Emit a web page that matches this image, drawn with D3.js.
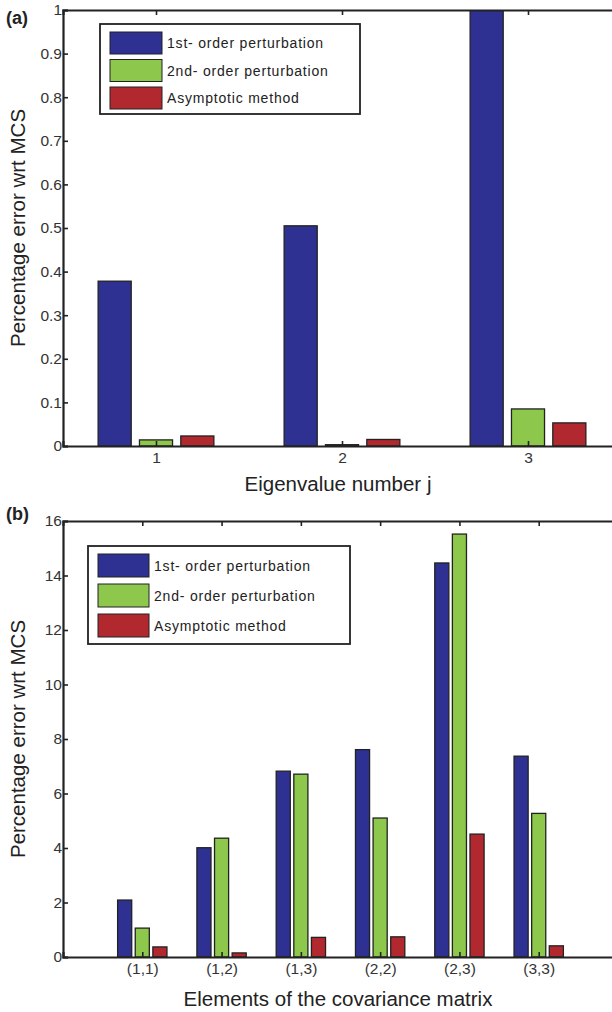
<!DOCTYPE html>
<meta charset="UTF-8">
<html lang="en">
<head><link rel="icon" href="data:,"></head>
<style>
body {
  margin: 0;
  background: #fff;
}
svg text {
  font-family: "Liberation Sans", Arial, sans-serif;
}
.tick-label {
  font-size: 15.5px;
  fill: #333;
}
.axis-title {
  font-size: 20.5px;
  fill: #222;
}
.legend-text {
  font-size: 14px;
  fill: #222;
  letter-spacing: 0.8px;
}
.panel-tag {
  font-size: 18px;
  font-weight: bold;
  fill: #222;
}
</style>
<script src="https://unpkg.com/d3@7.0.1/dist/d3.min.js"></script>
<body>
<svg id="view"></svg>
</body>
<script>
const seriesNames = ["1st- order perturbation", "2nd- order perturbation", "Asymptotic method"];
const seriesColors = ["#2e3192", "#8dc74c", "#b2282f"];

// panel (a): eigenvalues
const eigCategories = ["1", "2", "3"];
const eigFirst = [0.378, 0.505, 1.0];
const eigSecond = [0.014, 0.003, 0.085];
const eigAsym = [0.023, 0.015, 0.053];
const eigTicks = [0, 0.1, 0.2, 0.3, 0.4, 0.5, 0.6, 0.7, 0.8, 0.9, 1];

// panel (b): covariance matrix elements
const covCategories = ["(1,1)", "(1,2)", "(1,3)", "(2,2)", "(2,3)", "(3,3)"];
const covFirst = [2.09, 4.01, 6.82, 7.61, 14.46, 7.37];
const covSecond = [1.06, 4.36, 6.71, 5.1, 15.52, 5.27];
const covAsym = [0.37, 0.15, 0.72, 0.74, 4.51, 0.41];
const covTicks = [0, 2, 4, 6, 8, 10, 12, 14, 16];

const W = 612, H = 1012;
const svg = d3.select("#view").attr("width", W).attr("height", H);

// matlab grouped bar geometry
const groupW = 2 / 9;
const barW = 0.8 * groupW;

function drawPanel(opt){
    const g = svg.append("g");
    const x = d3.scaleLinear().domain(opt.xDomain).range([63, opt.right]);
    const y = d3.scaleLinear().domain(opt.yDomain).range([opt.bottom, opt.top]);
    const series = [opt.first, opt.second, opt.asym];

    const clipId = "clip-" + opt.id;
    g.append("clipPath").attr("id", clipId)
        .append("rect")
        .attr("x", x.range()[0]).attr("y", y.range()[1])
        .attr("width", x.range()[1] - x.range()[0])
        .attr("height", y.range()[0] - y.range()[1]);

    const bars = g.append("g").attr("clip-path", `url(#${clipId})`);
    series.forEach((vals, si) => {
        bars.selectAll(null)
            .data(vals)
            .enter()
            .append("rect")
            .attr("x", (d, i) => x(i + 1 + (si - 1) * groupW - barW / 2))
            .attr("width", x(barW) - x(0))
            .attr("y", d => y(d))
            .attr("height", d => y(0) - y(d))
            .attr("fill", seriesColors[si])
            .attr("stroke", "#222")
            .attr("stroke-width", 1.3);
    });

    // box axes with inward ticks, like matlab
    const tickLen = 5;
    const catPos = opt.categories.map((c, i) => i + 1);
    const axisLeft = d3.axisLeft(y).tickValues(opt.yTicks).tickSize(-tickLen).tickPadding(1)
        .tickFormat(d => opt.fmt(d));
    const axisRight = d3.axisRight(y).tickValues(opt.yTicks).tickSize(-tickLen).tickFormat("");
    const axisBottom = d3.axisBottom(x).tickValues(catPos).tickSize(-tickLen).tickPadding(6)
        .tickFormat((d, i) => opt.categories[i]);
    const axisTop = d3.axisTop(x).tickValues(catPos).tickSize(-tickLen).tickFormat("");

    const axes = [
        [axisLeft, `translate(${x.range()[0]},0)`],
        [axisRight, `translate(${x.range()[1]},0)`],
        [axisBottom, `translate(0,${y.range()[0]})`],
        [axisTop, `translate(0,${y.range()[1]})`]
    ];
    axes.forEach(([ax, tr]) => {
        const a = g.append("g").attr("transform", tr).call(ax);
        a.select(".domain").attr("stroke", "#222").attr("stroke-width", 2.2);
        a.selectAll(".tick line").attr("stroke", "#222").attr("stroke-width", 1.6);
        a.selectAll(".tick text").attr("class", "tick-label").attr("font-size", null).attr("font-family", null);
    });

    // axis titles
    g.append("text")
        .attr("class", "axis-title")
        .attr("x", 338)
        .attr("y", opt.bottom + opt.xTitleGap)
        .attr("text-anchor", "middle")
        .text(opt.xTitle);
    g.append("text")
        .attr("class", "axis-title")
        .attr("transform", `translate(25,${(opt.top + opt.bottom) / 2}) rotate(-90)`)
        .attr("text-anchor", "middle")
        .text("Percentage error wrt MCS");

    g.append("text")
        .attr("class", "panel-tag")
        .attr("x", 6)
        .attr("y", opt.tagY)
        .text(opt.tag);

    // legend
    const lg = g.append("g");
    const L = opt.legend;
    lg.append("rect")
        .attr("x", L.x).attr("y", L.y)
        .attr("width", L.w).attr("height", L.h)
        .attr("fill", "#fff").attr("stroke", "#222").attr("stroke-width", 1.8);
    seriesNames.forEach((name, i) => {
        const ry = L.y + 8 + i * L.step;
        lg.append("rect")
            .attr("x", L.x + 10).attr("y", ry)
            .attr("width", L.sw).attr("height", L.sh)
            .attr("fill", seriesColors[i]).attr("stroke", "#222").attr("stroke-width", 1);
        lg.append("text")
            .attr("class", "legend-text")
            .attr("x", L.x + 15 + L.sw)
            .attr("y", ry + L.sh / 2 + 5)
            .text(name);
    });
}

drawPanel({
    id: "a", tag: "(a)", tagY: 24,
    categories: eigCategories,
    first: eigFirst, second: eigSecond, asym: eigAsym,
    yTicks: eigTicks,
    fmt: d => d3.format("~g")(d),
    xDomain: [0.5, 3.5], right: 621,
    yDomain: [0, 1], top: 10, bottom: 446,
    xTitle: "Eigenvalue number j", xTitleGap: 45,
    legend: { x: 100, y: 24, w: 260, h: 90, step: 27.5, sw: 52, sh: 22 }
});

drawPanel({
    id: "b", tag: "(b)", tagY: 520,
    categories: covCategories,
    first: covFirst, second: covSecond, asym: covAsym,
    yTicks: covTicks,
    fmt: d => String(d),
    xDomain: [0, 7], right: 618,
    yDomain: [0, 16], top: 521, bottom: 957,
    xTitle: "Elements of the covariance matrix", xTitleGap: 49,
    legend: { x: 88, y: 546, w: 262, h: 98, step: 30, sw: 51, sh: 23 }
});
</script>
</html>
